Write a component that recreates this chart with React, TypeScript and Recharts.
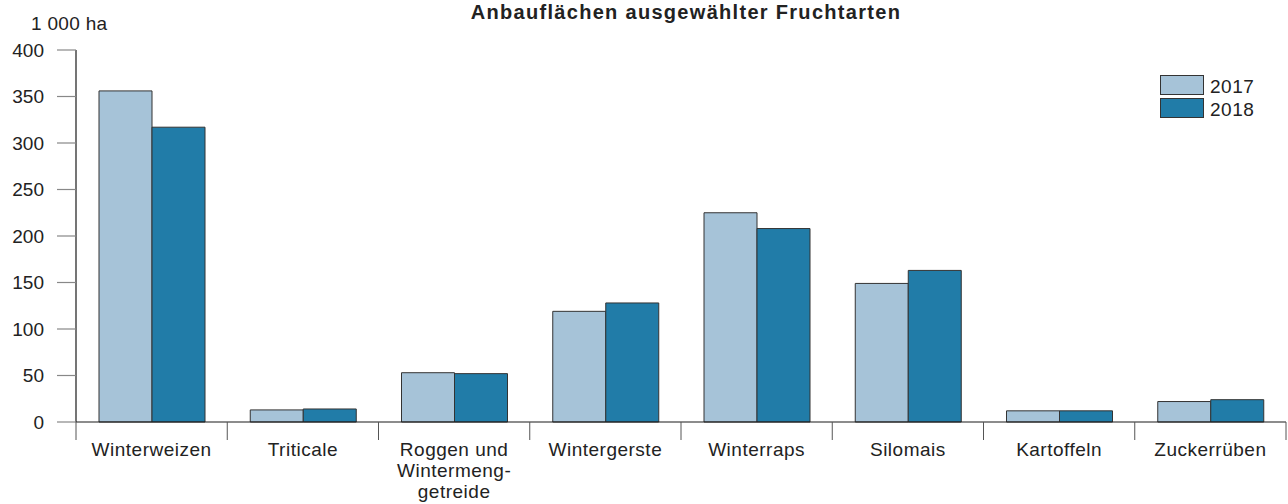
import React from 'react';
import { BarChart, Bar, XAxis, YAxis, Legend } from 'recharts';

const categories = ['Winterweizen', 'Triticale', 'Roggen und Wintermenggetreide', 'Wintergerste', 'Winterraps', 'Silomais', 'Kartoffeln', 'Zuckerrüben'];
const categoryLines = [['Winterweizen'], ['Triticale'], ['Roggen und', 'Wintermeng-', 'getreide'], ['Wintergerste'], ['Winterraps'], ['Silomais'], ['Kartoffeln'], ['Zuckerrüben']];
const values2017 = [356, 13, 53, 119, 225, 149, 12, 22];
const values2018 = [317, 14, 52, 128, 208, 163, 12, 24];
const yTicks = [0, 50, 100, 150, 200, 250, 300, 350, 400];
const seriesNames = ['2017', '2018'];
const title = 'Anbauflächen ausgewählter Fruchtarten';
const unitLabel = '1 000 ha';

const data = categories.map((name, i) => ({ name, v2017: values2017[i], v2018: values2018[i] }));

const W = 1288;
const H = 504;
const FONT = '"Liberation Sans", Arial, Helvetica, sans-serif';
const TEXT = '#222';
const LIGHT = '#a6c3d8';
const DARK = '#217ca8';
const STROKE = '#333';

const CategoryTick = (props: any) => {
  const { x, y, payload, index } = props;
  const half = payload && typeof payload.offset === 'number' && payload.offset > 0 ? payload.offset : 1210 / categories.length / 2;
  const idx = typeof index === 'number' ? index : categories.indexOf(payload.value);
  const lines = categoryLines[idx] || [String(payload.value)];
  return (
    <g>
      <line x1={x - half} y1={y} x2={x - half} y2={y + 18} stroke="#555" strokeWidth={1} />
      {idx === categories.length - 1 && (
        <line x1={x + half} y1={y} x2={x + half} y2={y + 18} stroke="#555" strokeWidth={1} />
      )}
      <text x={x} y={y + 34} textAnchor="middle" fill={TEXT} fontSize={19} letterSpacing={0.5} fontFamily={FONT}>
        {lines.map((l, i) => (
          <tspan key={i} x={x} dy={i === 0 ? 0 : 21}>{l}</tspan>
        ))}
      </text>
    </g>
  );
};

const renderLegend = (props: any) => {
  const payload = props.payload || [];
  return (
    <svg width={130} height={46} style={{ display: 'block', overflow: 'visible' }}>
      {payload.map((entry: any, i: number) => (
        <g key={i}>
          <rect x={0.5} y={0.5 + i * 23} width={43} height={19} fill={entry.color} stroke={STROKE} strokeWidth={1} />
          <text x={50} y={17.5 + i * 23} fill={TEXT} fontSize={19} letterSpacing={0.5} fontFamily={FONT}>{entry.value}</text>
        </g>
      ))}
    </svg>
  );
};

export default function App() {
  return (
    <div style={{ position: 'absolute', left: 0, top: 0, width: W, height: H, fontFamily: FONT, background: '#fff' }}>
      <BarChart
        width={W}
        height={H}
        data={data}
        margin={{ top: 50, right: 2, bottom: 22, left: 0 }}
        barCategoryGap={23}
        barGap={0}
      >
        <XAxis
          dataKey="name"
          height={60}
          interval={0}
          tickSize={0}
          tickMargin={0}
          tickLine={false}
          axisLine={{ stroke: '#1a1a1a', strokeWidth: 1.2 }}
          tick={<CategoryTick />}
        />
        <YAxis
          width={76}
          domain={[0, 400]}
          ticks={yTicks}
          interval={0}
          tickSize={19}
          tickMargin={13}
          axisLine={{ stroke: '#1a1a1a', strokeWidth: 1.2 }}
          tickLine={{ stroke: '#888', strokeWidth: 1.2 }}
          tick={{ fill: TEXT, fontSize: 19, fontFamily: FONT }}
        />
        <Legend
          layout="horizontal"
          verticalAlign="middle"
          align="center"
          content={renderLegend}
          wrapperStyle={{ left: 1160, top: 75, width: 130, height: 46 }}
        />
        <Bar dataKey="v2017" name={seriesNames[0]} fill={LIGHT} stroke={STROKE} strokeWidth={1} isAnimationActive={false} />
        <Bar dataKey="v2018" name={seriesNames[1]} fill={DARK} stroke={STROKE} strokeWidth={1} isAnimationActive={false} />
      </BarChart>
      <svg width={W} height={40} style={{ position: 'absolute', left: 0, top: 0, pointerEvents: 'none' }}>
        <text x={686} y={18.5} textAnchor="middle" fill={TEXT} fontSize={20} fontWeight="bold" letterSpacing={1.3} fontFamily={FONT}>{title}</text>
        <text x={31} y={30} fill={TEXT} fontSize={19} letterSpacing={0.3} fontFamily={FONT}>{unitLabel}</text>
      </svg>
    </div>
  );
}
